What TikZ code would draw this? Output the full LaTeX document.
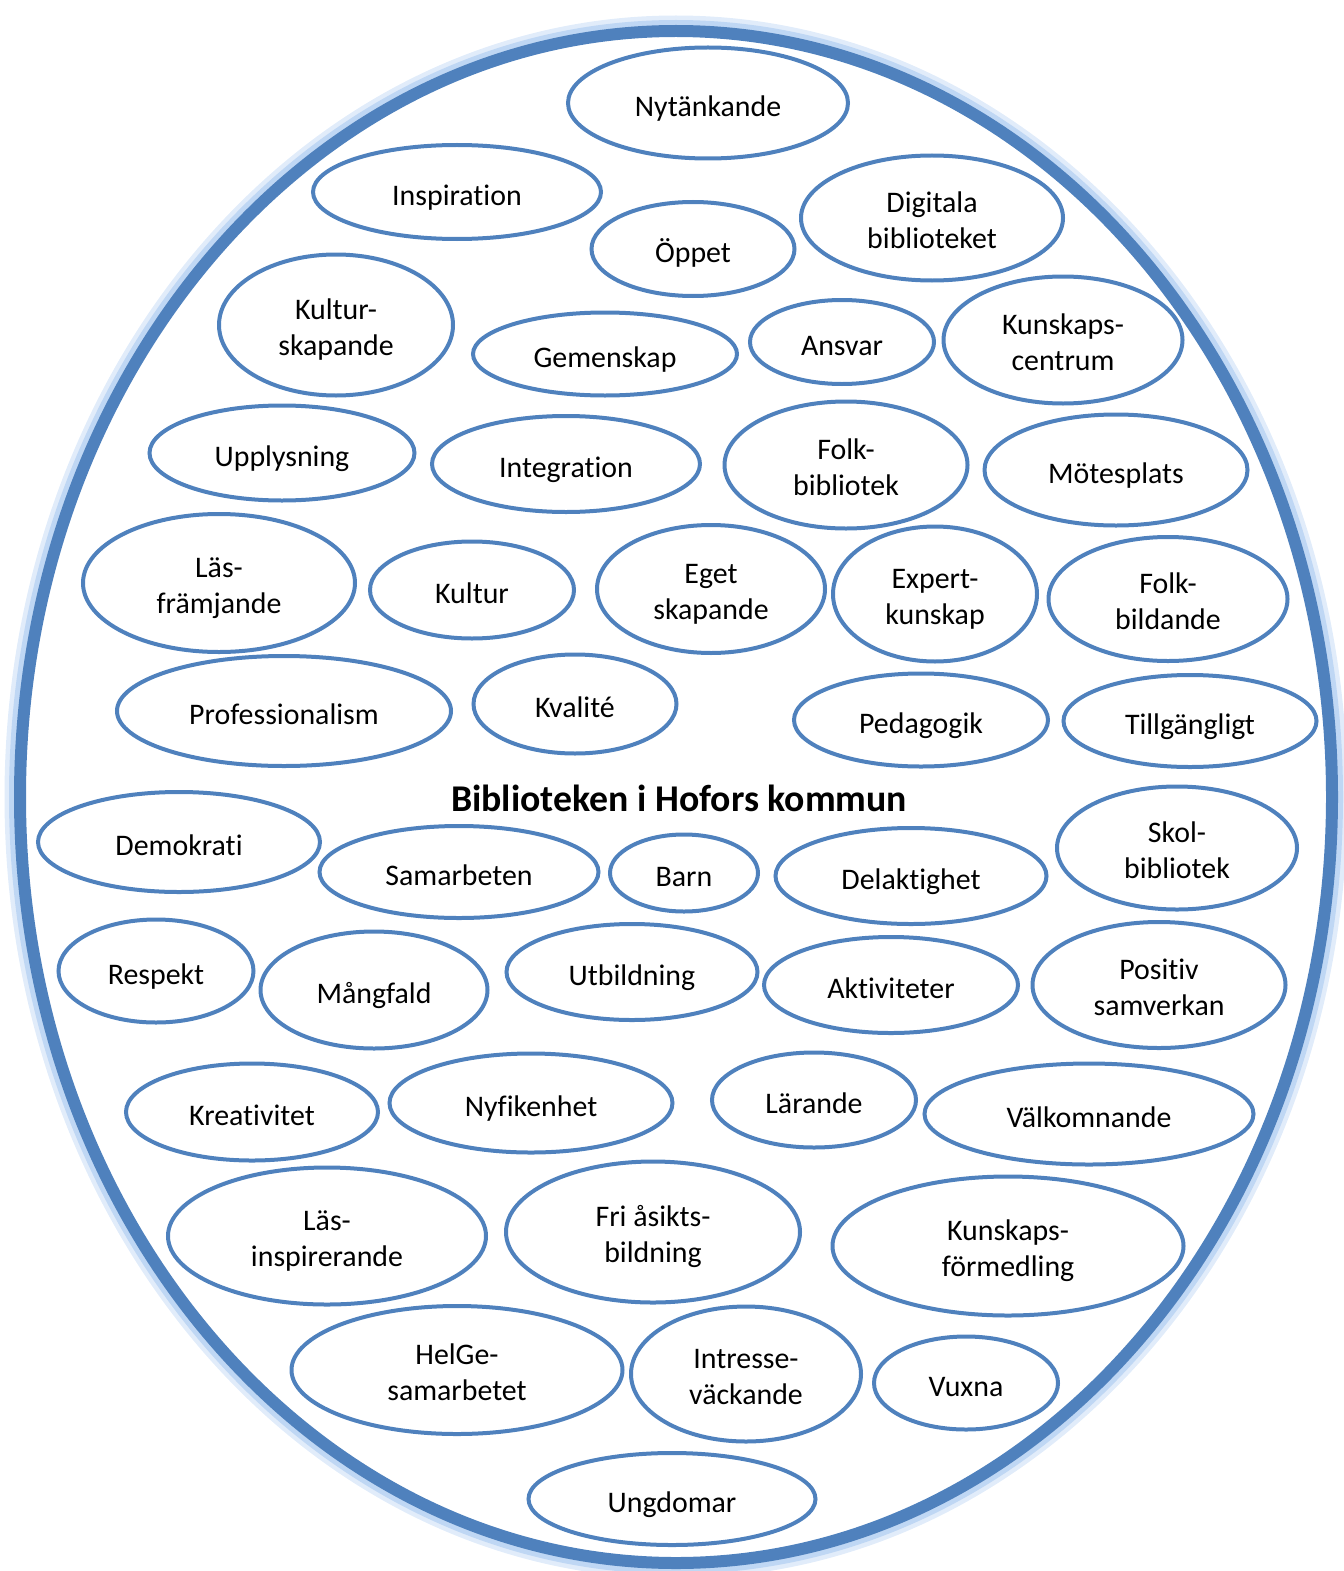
\documentclass[tikz,border=0pt]{standalone}
\usepackage{fontspec}
\setmainfont{Carlito}[Ligatures={NoCommon}]
\usetikzlibrary{shapes.geometric}
\definecolor{ringblue}{RGB}{79,129,189}
\definecolor{glowblue}{RGB}{170,202,240}

\begin{document}
\begin{tikzpicture}[x=0.02cm, y=-0.02cm,
  word/.style={ellipse, draw=ringblue, line width=0.08cm, inner sep=0pt, align=center,
    font=\fontsize{17}{20.5}\selectfont,
    execute at begin node={\rule{0pt}{20pt}}, execute at end node={\rule[-5pt]{0pt}{5pt}}},
  twoline/.style={word, execute at begin node={\rule{0pt}{40pt}}},
  wh/.style 2 args={minimum width=#1*0.02cm-0.08cm, minimum height=#2*0.02cm-0.08cm}]
\useasboundingbox (0,0) rectangle (1343,1571);

% outer ring with soft glow
\coordinate (C) at (676,797);
\draw[glowblue!35, line width=0.14cm] (C) ellipse [x radius=668, y radius=778];
\draw[glowblue!75, line width=0.16cm] (C) ellipse [x radius=663, y radius=773];
\draw[ringblue, line width=0.24cm] (C) ellipse [x radius=656, y radius=766];

\node[font=\fontsize{21.5}{26}\selectfont\bfseries] (title) at (679,798) {Biblioteken i Hofors kommun};

% upper half
\node[word, wh={284}{115}] (nytankande) at (708,103) {Nytänkande};
\node[word, wh={292}{98}] (inspiration) at (457,192) {Inspiration};
\node[word, wh={207}{98}] (oppet) at (693,249) {Öppet};
\node[twoline, wh={266}{129}] (digitala) at (932,218) {Digitala\\biblioteket};
\node[twoline, wh={238}{145}] (kulturskap) at (336,325) {Kultur-\\skapande};
\node[word, wh={268}{87}] (gemenskap) at (605,354) {Gemenskap};
\node[word, wh={188}{88}] (ansvar) at (842,342) {Ansvar};
\node[twoline, wh={243}{131}] (kcentrum) at (1063,340) {Kunskaps-\\centrum};
\node[word, wh={269}{99}] (upplysning) at (282,453) {Upplysning};
\node[word, wh={272}{100}] (integration) at (566,464) {Integration};
\node[twoline, wh={247}{131}] (folkbib) at (846,465) {Folk-\\bibliotek};
\node[word, wh={267}{115}] (motesplats) at (1116,470) {Mötesplats};
\node[twoline, wh={276}{142}] (lasfram) at (219,583) {Läs-\\främjande};
\node[word, wh={208}{101}] (kultur) at (472,590) {Kultur};
\node[twoline, wh={232}{132}] (eget) at (711,589) {Eget\\skapande};
\node[twoline, wh={208}{139}] (expert) at (935,594) {Expert-\\kunskap};
\node[twoline, wh={243}{128}] (folkbild) at (1168,599) {Folk-\\bildande};
\node[word, wh={338}{114}] (prof) at (284,711) {Professionalism};
\node[word, wh={207}{103}] (kvalite) at (575,704) {Kvalité};
\node[word, wh={258}{97}] (pedagogik) at (921,720) {Pedagogik};
\node[word, wh={257}{96}] (tillg) at (1190,721) {Tillgängligt};

% lower half
\node[word, wh={286}{104}] (demokrati) at (179,842) {Demokrati};
\node[word, wh={283}{96}] (samarbeten) at (459,872) {Samarbeten};
\node[word, wh={152}{81}] (barn) at (684,873) {Barn};
\node[word, wh={275}{100}] (delakt) at (911,876) {Delaktighet};
\node[twoline, wh={244}{127}] (skolbib) at (1177,848) {Skol-\\bibliotek};
\node[word, wh={199}{107}] (respekt) at (156,971) {Respekt};
\node[word, wh={231}{121}] (mangfald) at (374,990) {Mångfald};
\node[word, wh={255}{100}] (utbildning) at (632,972) {Utbildning};
\node[word, wh={258}{100}] (aktiv) at (891,985) {Aktiviteter};
\node[twoline, wh={257}{130}] (positiv) at (1159,985) {Positiv\\samverkan};
\node[word, wh={256}{101}] (kreativ) at (252,1112) {Kreativitet};
\node[word, wh={287}{103}] (nyfiken) at (531,1103) {Nyfikenhet};
\node[word, wh={208}{99}] (larande) at (814,1100) {Lärande};
\node[word, wh={333}{105}] (valkom) at (1089,1114) {Välkomnande};
\node[twoline, wh={322}{141}] (lasinsp) at (327,1236) {Läs-\\inspirerande};
\node[twoline, wh={298}{145}] (asikt) at (653,1232) {Fri åsikts-\\bildning};
\node[twoline, wh={355}{143}] (kformed) at (1008,1246) {Kunskaps-\\förmedling};
\node[twoline, wh={335}{132}] (helge) at (457,1370) {HelGe-\\samarbetet};
\node[twoline, wh={234}{139}] (intresse) at (746,1374) {Intresse-\\väckande};
\node[word, wh={188}{97}] (vuxna) at (966,1383) {Vuxna};
\node[word, wh={291}{96}] (ungdomar) at (672,1499) {Ungdomar};
\end{tikzpicture}
\end{document}
